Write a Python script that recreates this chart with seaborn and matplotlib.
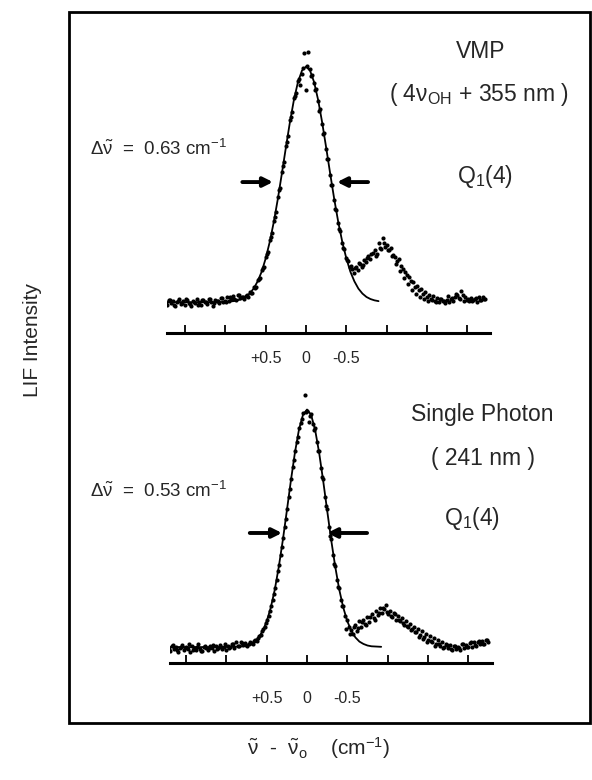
import numpy as np
import pandas as pd
import seaborn as sns
import matplotlib.pyplot as plt
from matplotlib.patches import Rectangle

# --- data (x in cm-1 from line centre, y = LIF intensity, arb. units) ---
# scans were recorded on uniform grids (0.025 and 0.05 cm-1)
vmp_x = 1.75 - 0.025 * np.arange(160)
vmp_y = [
    0.095, 0.080, 0.102, 0.088, 0.098, 0.076, 0.093, 0.104, 0.085, 0.097,
    0.083, 0.100, 0.090, 0.078, 0.096, 0.087, 0.105, 0.091, 0.082, 0.099,
    0.094, 0.086, 0.103, 0.092, 0.079, 0.101, 0.096, 0.088, 0.107, 0.093,
    0.098, 0.110, 0.095, 0.104, 0.115, 0.100, 0.118, 0.108, 0.112, 0.104,
    0.115, 0.112, 0.130, 0.128, 0.150, 0.152, 0.176, 0.185, 0.214, 0.228,
    0.266, 0.286, 0.330, 0.356, 0.404, 0.437, 0.493, 0.530, 0.590, 0.628,
    0.690, 0.727, 0.788, 0.820, 0.874, 0.892, 0.940, 0.925, 0.965, 1.046,
    0.905, 1.050, 0.985, 0.962, 0.930, 0.908, 0.862, 0.831, 0.776, 0.738,
    0.679, 0.640, 0.578, 0.541, 0.482, 0.446, 0.394, 0.365, 0.318, 0.295,
    0.262, 0.250, 0.225, 0.218, 0.205, 0.226, 0.214, 0.240, 0.228, 0.252,
    0.245, 0.268, 0.258, 0.282, 0.290, 0.275, 0.318, 0.296, 0.338, 0.305,
    0.312, 0.290, 0.298, 0.272, 0.265, 0.250, 0.258, 0.232, 0.220, 0.208,
    0.196, 0.190, 0.172, 0.168, 0.150, 0.155, 0.138, 0.142, 0.125, 0.130,
    0.112, 0.120, 0.105, 0.114, 0.098, 0.108, 0.094, 0.103, 0.096, 0.090,
    0.101, 0.093, 0.106, 0.098, 0.112, 0.120, 0.108, 0.135, 0.118, 0.110,
    0.102, 0.096, 0.108, 0.099, 0.104, 0.094, 0.110, 0.100, 0.113, 0.105,
]
vmp_x2 = 1.7375 - 0.05 * np.arange(80)
vmp_y2 = [
    0.088, 0.101, 0.083, 0.097, 0.090, 0.106, 0.086, 0.094, 0.080, 0.099,
    0.092, 0.103, 0.087, 0.098, 0.109, 0.094, 0.112, 0.105, 0.118, 0.110,
    0.121, 0.128, 0.146, 0.181, 0.222, 0.275, 0.340, 0.420, 0.520, 0.612,
    0.705, 0.800, 0.880, 0.945, 0.990, 0.997, 0.960, 0.905, 0.826, 0.735,
    0.640, 0.540, 0.450, 0.372, 0.300, 0.255, 0.232, 0.222, 0.242, 0.236,
    0.262, 0.278, 0.270, 0.300, 0.318, 0.292, 0.268, 0.240, 0.212, 0.185,
    0.160, 0.140, 0.122, 0.110, 0.104, 0.096, 0.100, 0.092, 0.104, 0.098,
    0.115, 0.108, 0.125, 0.103, 0.098, 0.106, 0.095, 0.108, 0.100, 0.104,
]
vmp_fit_x = [1.75, 1.50, 1.25, 1.00, 0.90, 0.85, 0.80, 0.75, 0.70, 0.65, 0.60, 0.55,
             0.50, 0.45, 0.40, 0.35, 0.30, 0.25, 0.20, 0.15, 0.10, 0.05, 0.00,
             -0.05, -0.10, -0.15, -0.20, -0.25, -0.30, -0.35, -0.40, -0.45, -0.50,
             -0.55, -0.60, -0.65, -0.70, -0.75, -0.80, -0.85, -0.90]
vmp_fit_y = [0.092, 0.092, 0.092, 0.093, 0.096, 0.099, 0.104, 0.112, 0.125, 0.144, 0.172, 0.209,
             0.260, 0.323, 0.399, 0.487, 0.584, 0.684, 0.781, 0.867, 0.935, 0.979, 0.994,
             0.979, 0.935, 0.867, 0.781, 0.684, 0.584, 0.487, 0.399, 0.323, 0.260,
             0.209, 0.172, 0.144, 0.125, 0.112, 0.104, 0.099, 0.096]

one_x = 1.725 - 0.025 * np.arange(160)
one_y = [
    0.098, 0.085, 0.106, 0.092, 0.100, 0.080, 0.096, 0.108, 0.088, 0.101,
    0.094, 0.083, 0.104, 0.097, 0.090, 0.110, 0.093, 0.086, 0.102, 0.095,
    0.089, 0.105, 0.098, 0.084, 0.103, 0.096, 0.109, 0.091, 0.100, 0.087,
    0.106, 0.099, 0.112, 0.095, 0.118, 0.104, 0.120, 0.108, 0.115, 0.103,
    0.110, 0.114, 0.112, 0.126, 0.124, 0.142, 0.145, 0.168, 0.175, 0.205,
    0.220, 0.258, 0.279, 0.327, 0.357, 0.415, 0.452, 0.517, 0.560, 0.630,
    0.676, 0.745, 0.788, 0.852, 0.886, 0.940, 0.958, 0.997, 1.065, 1.004,
    0.963, 0.992, 0.955, 0.938, 0.884, 0.850, 0.787, 0.743, 0.675, 0.628,
    0.561, 0.515, 0.453, 0.412, 0.358, 0.325, 0.280, 0.256, 0.218, 0.203,
    0.176, 0.166, 0.150, 0.185, 0.160, 0.198, 0.176, 0.205, 0.188, 0.214,
    0.196, 0.226, 0.210, 0.238, 0.222, 0.250, 0.230, 0.245, 0.262, 0.228,
    0.240, 0.215, 0.232, 0.205, 0.220, 0.198, 0.210, 0.186, 0.200, 0.176,
    0.190, 0.168, 0.178, 0.158, 0.170, 0.148, 0.160, 0.138, 0.150, 0.128,
    0.142, 0.120, 0.135, 0.112, 0.128, 0.106, 0.118, 0.100, 0.112, 0.095,
    0.108, 0.090, 0.104, 0.094, 0.101, 0.088, 0.112, 0.096, 0.108, 0.099,
    0.115, 0.102, 0.120, 0.106, 0.118, 0.110, 0.125, 0.112, 0.128, 0.118,
]
one_x2 = 1.7125 - 0.05 * np.arange(80)
one_y2 = [
    0.092, 0.107, 0.088, 0.101, 0.095, 0.112, 0.090, 0.099, 0.084, 0.104,
    0.096, 0.108, 0.091, 0.102, 0.113, 0.098, 0.110, 0.106, 0.114, 0.108,
    0.118, 0.124, 0.135, 0.160, 0.192, 0.240, 0.302, 0.390, 0.482, 0.592,
    0.705, 0.815, 0.905, 0.975, 1.000, 0.985, 0.930, 0.850, 0.750, 0.640,
    0.525, 0.420, 0.330, 0.258, 0.168, 0.150, 0.178, 0.172, 0.195, 0.186,
    0.215, 0.205, 0.232, 0.248, 0.236, 0.220, 0.228, 0.205, 0.192, 0.182,
    0.165, 0.158, 0.140, 0.132, 0.118, 0.122, 0.105, 0.112, 0.096, 0.108,
    0.092, 0.105, 0.098, 0.110, 0.100, 0.118, 0.108, 0.122, 0.112, 0.126,
]
one_fit_x = [1.70, 1.40, 1.10, 0.90, 0.80, 0.75, 0.70, 0.65, 0.60, 0.55, 0.50,
             0.45, 0.40, 0.35, 0.30, 0.25, 0.20, 0.15, 0.10, 0.05, 0.00,
             -0.05, -0.10, -0.15, -0.20, -0.25, -0.30, -0.35, -0.40, -0.45, -0.50,
             -0.55, -0.60, -0.65, -0.70, -0.75, -0.80, -0.92]
one_fit_y = [0.100, 0.100, 0.100, 0.101, 0.103, 0.106, 0.112, 0.121, 0.137, 0.162, 0.199,
             0.251, 0.320, 0.408, 0.510, 0.623, 0.738, 0.845, 0.933, 0.990, 1.010,
             0.990, 0.933, 0.845, 0.738, 0.623, 0.510, 0.408, 0.320, 0.251, 0.199,
             0.162, 0.137, 0.121, 0.112, 0.106, 0.103, 0.101]

tick_pos = [1.5, 1.0, 0.5, 0.0, -0.5, -1.0, -1.5, -2.0]
tick_txt = ["", "", "+0.5", "0", "-0.5", "", "", ""]

sns.set_style("white")
plt.rcParams["font.family"] = ["Liberation Sans", "DejaVu Sans"]
plt.rcParams["mathtext.fontset"] = "custom"
plt.rcParams["mathtext.rm"] = "Liberation Sans"
plt.rcParams["mathtext.it"] = "Liberation Sans:italic"

W, H = 592, 780
fig = plt.figure(figsize=(W / 100, H / 100), dpi=100)


def fx(px):
    return px / W


def fy(py):
    return 1 - py / H


panels = [
    dict(box=(167, 40, 490, 333), xlim=(1.725, -2.283), ylim=(-0.026, 1.096),
         scans=[(vmp_x, vmp_y), (vmp_x2, vmp_y2)], fit=(vmp_fit_x, vmp_fit_y), pad=13),
    dict(box=(170, 380, 492, 663), xlim=(1.70, -2.295), ylim=(0.039, 1.123),
         scans=[(one_x, one_y), (one_x2, one_y2)], fit=(one_fit_x, one_fit_y), pad=20),
]
axes = []
for p in panels:
    x0, y0, x1, y1 = p["box"]
    ax = fig.add_axes([fx(x0), fy(y1), fx(x1) - fx(x0), (y1 - y0) / H])
    scan = pd.concat([pd.DataFrame({"shift": sx, "lif": sy}) for sx, sy in p["scans"]])
    fit = pd.DataFrame({"shift": p["fit"][0], "lif": p["fit"][1]})
    sns.scatterplot(data=scan, x="shift", y="lif", ax=ax, color="black",
                    s=9, linewidth=0, legend=False)
    sns.lineplot(data=fit, x="shift", y="lif", ax=ax, color="black",
                 lw=1.3, sort=False, estimator=None)
    ax.set_xlim(*p["xlim"])
    ax.set_ylim(*p["ylim"])
    ax.set_xticks(tick_pos, labels=tick_txt)
    ax.set_yticks([])
    ax.set_xlabel("")
    ax.set_ylabel("")
    for s in ["left", "top", "right"]:
        ax.spines[s].set_visible(False)
    ax.spines["bottom"].set_linewidth(2.2)
    ax.spines["bottom"].set_color("black")
    ax.tick_params(axis="x", bottom=True, direction="in", length=6, width=1.3,
                   color="black", pad=p["pad"], labelsize=11.5)
    ax.patch.set_alpha(0)
    axes.append(ax)

ax_top, ax_bot = axes

# FWHM arrows
arrow = dict(arrowstyle="-|>", color="black", lw=2.8, mutation_scale=14,
             shrinkA=0, shrinkB=0)
ax_top.annotate("", xy=(0.41, 0.552), xytext=(0.79, 0.552), arrowprops=arrow)
ax_top.annotate("", xy=(-0.385, 0.552), xytext=(-0.77, 0.552), arrowprops=arrow)
ax_bot.annotate("", xy=(0.31, 0.537), xytext=(0.71, 0.537), arrowprops=arrow)
ax_bot.annotate("", xy=(-0.25, 0.537), xytext=(-0.745, 0.537), arrowprops=arrow)

# labels
big = 16.5
fig.text(fx(481), fy(52), "VMP", ha="center", va="center", fontsize=big)
fig.text(fx(479), fy(94), r"( 4$\mathrm{\nu}_{\mathrm{OH}}$ + 355 nm )",
         ha="center", va="center", fontsize=big)
fig.text(fx(485), fy(176), r"Q$_1$(4)", ha="center", va="center", fontsize=big)
fig.text(fx(482), fy(414), "Single Photon", ha="center", va="center", fontsize=big)
fig.text(fx(483), fy(459), "( 241 nm )", ha="center", va="center", fontsize=big)
fig.text(fx(472), fy(519), r"Q$_1$(4)", ha="center", va="center", fontsize=big)

fig.text(fx(90), fy(149), r"$\Delta\tilde{\mathrm{\nu}}$  =  0.63 cm$^{-1}$",
         ha="left", va="center", fontsize=13.5)
fig.text(fx(90), fy(491), r"$\Delta\tilde{\mathrm{\nu}}$  =  0.53 cm$^{-1}$",
         ha="left", va="center", fontsize=13.5)

fig.text(fx(33), fy(340), "LIF Intensity", rotation=90, ha="center", va="center",
         fontsize=15)
fig.text(fx(318), fy(748),
         r"$\tilde{\mathrm{\nu}}$  -  $\tilde{\mathrm{\nu}}_{\mathrm{o}}$    (cm$^{-1}$)",
         ha="center", va="center", fontsize=15)

# outer frame
fig.add_artist(Rectangle((fx(69), fy(723)), fx(590) - fx(69), (723 - 12) / H,
                         transform=fig.transFigure, fill=False, lw=2, ec="black"))

fig.savefig("out.png", dpi=100)
